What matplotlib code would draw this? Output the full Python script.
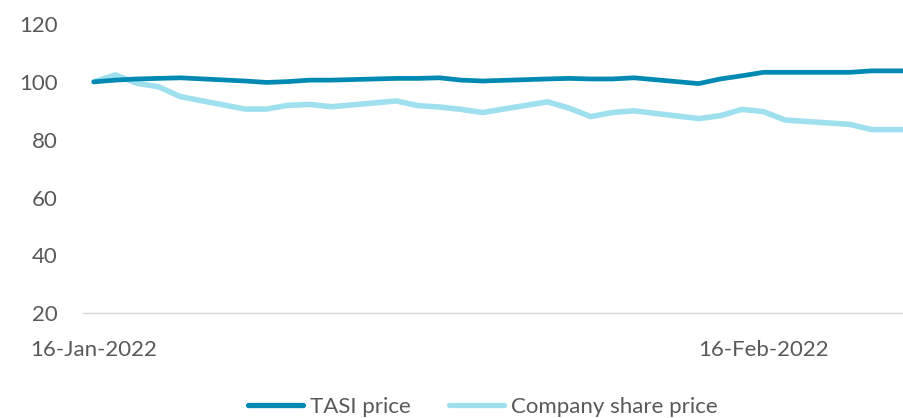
import datetime as dt
import matplotlib
matplotlib.use("Agg")
import matplotlib.pyplot as plt

plt.rcParams['font.family'] = ['Lato', 'DejaVu Sans']

# trading days shown in the chart (last one runs off the right edge)
dates = ["2022-01-16", "2022-01-17", "2022-01-18", "2022-01-19", "2022-01-20",
         "2022-01-23", "2022-01-24", "2022-01-25", "2022-01-26", "2022-01-27",
         "2022-01-30", "2022-01-31", "2022-02-01", "2022-02-02", "2022-02-03",
         "2022-02-06", "2022-02-07", "2022-02-08", "2022-02-09", "2022-02-10",
         "2022-02-13", "2022-02-14", "2022-02-15", "2022-02-16", "2022-02-17",
         "2022-02-20", "2022-02-21", "2022-02-22", "2022-02-23"]

# rebased to 100
tasi = [100.0, 100.6, 101.0, 101.2, 101.4,
        100.3, 99.8, 100.1, 100.6, 100.6,
        101.2, 101.2, 101.4, 100.6, 100.3,
        101.0, 101.2, 101.0, 101.0, 101.4,
        99.4, 101.0, 102.1, 103.3, 103.3,
        103.3, 103.8, 103.8, 103.8]
company = [100.0, 102.4, 99.5, 98.3, 94.9,
           90.6, 90.6, 91.9, 92.2, 91.4,
           93.4, 91.8, 91.3, 90.5, 89.4,
           93.1, 90.9, 88.0, 89.4, 90.0,
           87.3, 88.3, 90.5, 89.7, 86.8,
           85.3, 83.5, 83.5, 83.5]

x_tick_labels = ["16-Jan-2022", "16-Feb-2022"]
y_ticks = [20, 40, 60, 80, 100, 120]

text_col = "#595959"
dark = "#0089B3"
light = "#9FE0EE"
fs = 16

x = [dt.datetime.strptime(d, "%Y-%m-%d") for d in dates]

fig = plt.figure(figsize=(9.04, 4.18), dpi=100)
ax = fig.add_axes([83 / 904, (418 - 313.3) / 418, 1 - 83 / 904, (313.3 - 24) / 418])

ax.plot(x, tasi, color=dark, lw=3.4, solid_capstyle="round", solid_joinstyle="round",
        label="TASI price", zorder=3)
ax.plot(x, company, color=light, lw=4.0, solid_capstyle="round", solid_joinstyle="round",
        label="Company share price", zorder=2)

half = dt.timedelta(hours=12)
ax.set_xlim(x[0] - half, x[-2] + half)
ax.set_ylim(20, 120)

ax.set_yticks(y_ticks)
ax.set_xticks([dt.datetime.strptime(s, "%d-%b-%Y") for s in x_tick_labels])
ax.set_xticklabels(x_tick_labels)

for s in ["top", "right", "left"]:
    ax.spines[s].set_visible(False)
ax.spines["bottom"].set_color("#D9D9D9")
ax.spines["bottom"].set_linewidth(1.0)

ax.tick_params(axis="y", length=0, pad=18, labelsize=fs, labelcolor=text_col)
ax.tick_params(axis="x", length=0, pad=19, labelsize=fs, labelcolor=text_col)

leg = fig.legend(loc="center", bbox_to_anchor=(0.534, 0.027), ncol=2, frameon=False,
                 fontsize=fs, handlelength=2.5, handletextpad=0.3, columnspacing=1.7)
for t in leg.get_texts():
    t.set_color(text_col)
for h in leg.get_lines():
    h.set_linewidth(3.8)
    h.set_solid_capstyle("round")

fig.savefig("out.png", dpi=100)
